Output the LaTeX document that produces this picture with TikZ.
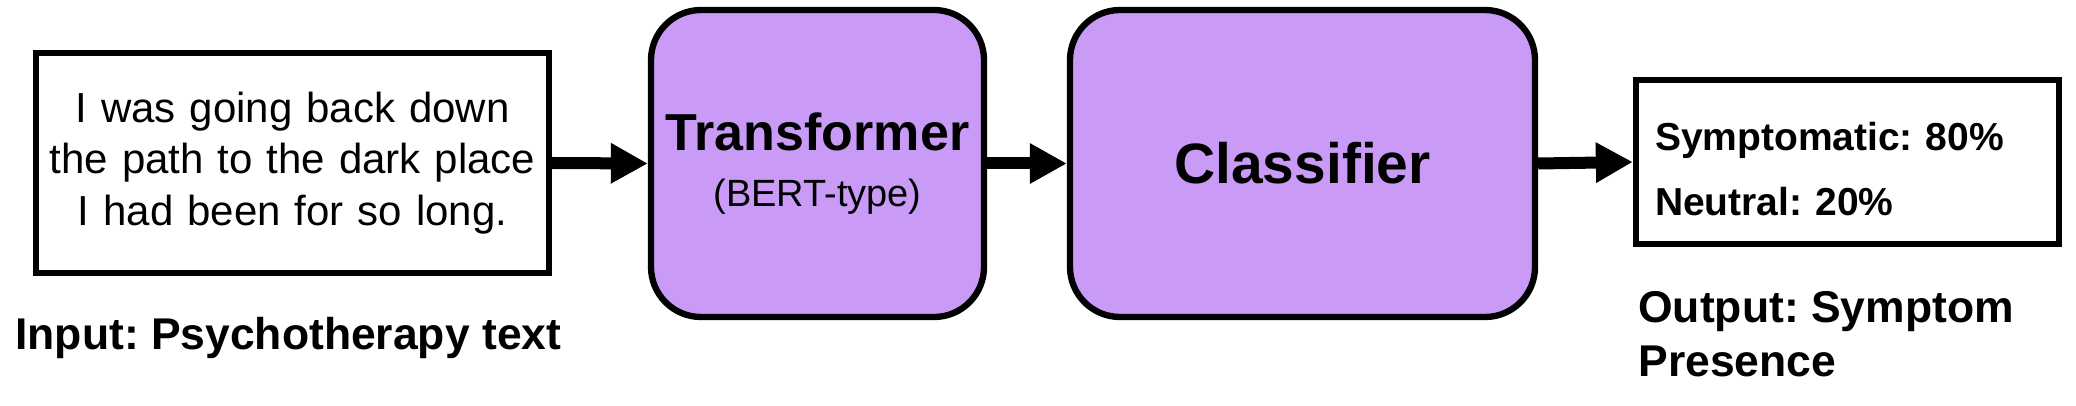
\documentclass[tikz,border=0pt]{standalone}
\usepackage{fontspec}
\setmainfont{Liberation Sans}
\usepackage{tikz}
\usetikzlibrary{arrows.meta,positioning}
\definecolor{boxpurple}{RGB}{201,155,247}
\frenchspacing
\tikzset{
  plainbox/.style={
      draw,
      line width=3.6pt,
      fill=white,
      inner sep=0pt
    },
  modelbox/.style={
      draw,
      line width=3.6pt,
      fill=boxpurple,
      rounded corners=1cm,
      align=center,
      inner sep=0pt,
      minimum height=6.14cm
    },
  flow/.style={
      ->,
      line width=0.24cm
    },
  caption/.style={
      font=\fontsize{25.3}{30.7}\selectfont\bfseries,
      align=left,
      inner sep=0pt,
      anchor=west
    }
}

\begin{document}
\begin{tikzpicture}[>={Triangle[length=0.74cm,width=0.76cm]}]
\useasboundingbox (0,0) rectangle (41.52,-8.12);
% the shapes
\node[plainbox,align=center,text width=10.26cm,minimum height=4.4cm,
  font=\fontsize{23.9}{29.3}\selectfont]
  at (5.85,-3.26) (input)
  {I was going back down\\the path to the dark place\\I had been for so long.};
\node[modelbox,minimum width=6.66cm,font=\fontsize{29.6}{31.9}\selectfont]
  at (16.35,-3.27) (encoder)
  {{\bfseries Transformer}\\{\fontsize{21.6}{24}\selectfont (BERT-type)}};
\node[modelbox,minimum width=9.3cm,font=\fontsize{32.4}{36}\selectfont\bfseries]
  at (26.05,-3.27) (classifier)
  {Classifier};
\node[plainbox,align=left,text width=7.7cm,inner xsep=0.38cm,minimum height=3.28cm,
  font=\fontsize{22.2}{37}\selectfont\bfseries]
  at (36.95,-3.24) (output)
  {\rule{0pt}{24pt}Symptomatic: 80\%\\Neutral: 20\%};
\node[caption] at (0.3,-6.76) (inlabel) {Input: Psychotherapy text};
\node[caption] at (32.76,-6.68) (outlabel) {Output: Symptom\\Presence};

%the arrows
\draw[flow] (input.east) -- (encoder.west);
\draw[flow] (encoder.east) -- (classifier.west);
\draw[flow] (classifier.east) -- (output.west);
\end{tikzpicture}
\end{document}
